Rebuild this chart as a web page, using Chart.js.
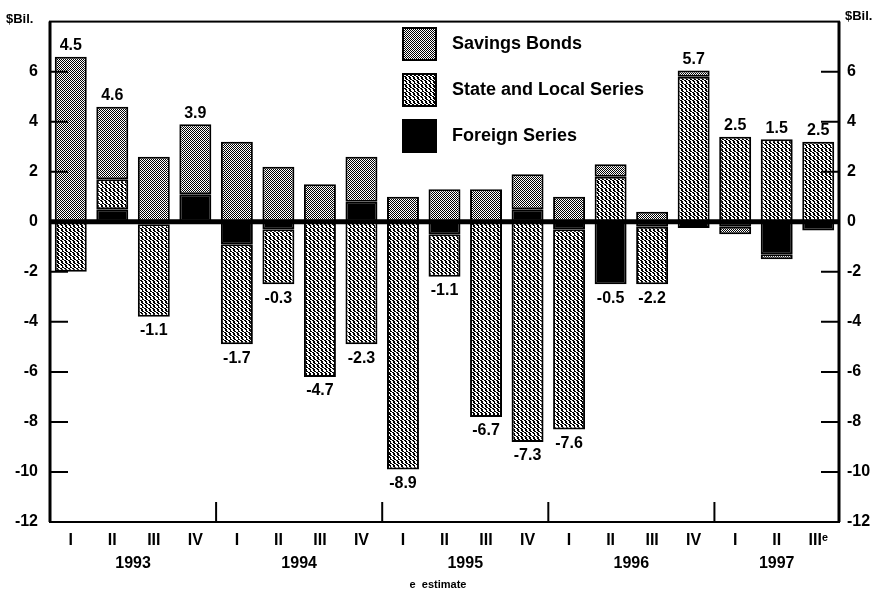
<!DOCTYPE html>
<html>
<head>
<meta charset="utf-8">
<script src="https://cdn.jsdelivr.net/npm/chart.js@4.4.1/dist/chart.umd.min.js"></script>
<style>
  html, body { margin: 0; padding: 0; background: #fff; }
  #wrap { width: 879px; height: 594px; }
</style>
</head>
<body>
<div id="wrap"><canvas id="chart" width="879" height="594"></canvas></div>
<script>
// quarters 1993 I .. 1997 III (estimate)
const quarters = ['I', 'II', 'III', 'IV', 'I', 'II', 'III', 'IV', 'I', 'II', 'III', 'IV', 'I', 'II', 'III', 'IV', 'I', 'II', 'III\u1D49'];
const years = ['1993', '1994', '1995', '1996', '1997'];
const yearCenters = [1.5, 5.5, 9.5, 13.5, 17];

// $ billions
const savingsBonds = [6.6, 2.9, 2.6, 2.8, 3.2, 2.2, 1.5, 1.8, 1.0, 1.3, 1.3, 1.4, 1.0, 0.5, 0.4, 0.25, -0.3, -0.2, null];
const stateLocal   = [-2.0, 1.2, -3.7, null, -4.0, -2.2, -6.2, -4.9, -9.9, -1.7, -7.8, -8.8, -8.0, 1.8, -2.3, 5.8, 3.4, 3.3, 3.2];
const foreign      = [null, 0.5, -0.1, 1.1, -0.9, -0.3, null, 0.8, null, -0.5, null, 0.5, -0.3, -2.5, -0.2, -0.25, -0.2, -1.3, -0.35];
const netTotals    = [4.5, 4.6, -1.1, 3.9, -1.7, -0.3, -4.7, -2.3, -8.9, -1.1, -6.7, -7.3, -7.6, -0.5, -2.2, 5.7, 2.5, 1.5, 2.5];

const FONT = '"Liberation Sans", Arial, sans-serif';
const canvas = document.getElementById('chart');
const ctx0 = canvas.getContext('2d');

function makePattern(size, ink) {
  const c = document.createElement('canvas');
  c.width = c.height = size;
  const g = c.getContext('2d');
  g.fillStyle = '#fff';
  g.fillRect(0, 0, size, size);
  g.fillStyle = '#000';
  for (let y = 0; y < size; y++)
    for (let x = 0; x < size; x++)
      if (ink(x, y)) g.fillRect(x, y, 1, 1);
  return ctx0.createPattern(c, 'repeat');
}

// dotted lattice for savings bonds, darker wavy hatch for state and local
const sbFill = makePattern(4, (x, y) => (x + y) % 4 === 0 || (x - y + 8) % 4 === 0 || (x === 0 && y === 2) || (x === 2 && y === 0));
const slFill = makePattern(8, (x, y) => (((x + ((y >> 1) & 1) - y + 16) % 4) < 2 && !(x === 5 && y === 2)) || (x === 2 && y === 6) || (x === 6 && y === 3));

const decor = {
  id: 'decor',
  afterDatasetsDraw(chart) {
    const { ctx, chartArea: a, scales: { x, y } } = chart;
    ctx.save();
    ctx.strokeStyle = '#000';
    ctx.fillStyle = '#000';

    // zero line
    ctx.lineWidth = 5;
    ctx.beginPath();
    ctx.moveTo(a.left, y.getPixelForValue(0));
    ctx.lineTo(a.right, y.getPixelForValue(0));
    ctx.stroke();

    // frame: thin top/bottom, heavier sides
    ctx.lineWidth = 2;
    ctx.strokeRect(a.left, a.top, a.right - a.left, a.bottom - a.top);
    ctx.lineWidth = 3;
    ctx.beginPath();
    ctx.moveTo(a.left, a.top); ctx.lineTo(a.left, a.bottom);
    ctx.moveTo(a.right, a.top); ctx.lineTo(a.right, a.bottom);
    ctx.stroke();

    // inward tick marks on both sides
    ctx.lineWidth = 2;
    for (let v = -10; v <= 6; v += 2) {
      if (v === 0) continue;
      const py = y.getPixelForValue(v);
      ctx.beginPath();
      ctx.moveTo(a.left, py); ctx.lineTo(a.left + 18, py);
      ctx.moveTo(a.right - 18, py); ctx.lineTo(a.right, py);
      ctx.stroke();
    }

    // year dividers
    [3, 7, 11, 15].forEach(i => {
      const px = (x.getPixelForValue(i) + x.getPixelForValue(i + 1)) / 2;
      ctx.beginPath();
      ctx.moveTo(px, a.bottom); ctx.lineTo(px, a.bottom - 20);
      ctx.stroke();
    });

    // net totals
    ctx.font = 'bold 16px ' + FONT;
    ctx.textAlign = 'center';
    netTotals.forEach((v, i) => {
      let pos = 0, neg = 0;
      [foreign, stateLocal, savingsBonds].forEach(s => {
        const d = s[i] || 0;
        if (d > 0) pos += d; else neg += d;
      });
      const px = x.getPixelForValue(i);
      if (v >= 0) {
        ctx.textBaseline = 'bottom';
        ctx.fillText(v.toFixed(1), px, y.getPixelForValue(pos) - 3);
      } else {
        ctx.textBaseline = 'top';
        ctx.fillText(v.toFixed(1), px, y.getPixelForValue(neg) + 6);
      }
    });

    // legend
    const items = [
      ['Savings Bonds', sbFill],
      ['State and Local Series', slFill],
      ['Foreign Series', '#000']
    ];
    ctx.font = 'bold 18px ' + FONT;
    ctx.textAlign = 'left';
    ctx.textBaseline = 'middle';
    items.forEach(([label, fill], k) => {
      const top = 28 + k * 46;
      ctx.fillStyle = fill;
      ctx.fillRect(403, top, 33, 32);
      ctx.lineWidth = 2;
      ctx.strokeRect(403, top, 33, 32);
      ctx.fillStyle = '#000';
      ctx.fillText(label, 452, top + 16);
    });

    // unit labels and footnote
    ctx.font = 'bold 13px ' + FONT;
    ctx.textBaseline = 'middle';
    ctx.textAlign = 'left';
    ctx.fillText('$Bil.', 6, 19);
    ctx.fillText('$Bil.', 845, 16);
    ctx.font = 'bold 11px ' + FONT;
    ctx.textAlign = 'center';
    ctx.fillText('e  estimate', 438, 585);
    ctx.restore();
  }
};

const barStyle = { borderColor: '#000', borderWidth: 2, borderSkipped: false, barPercentage: 0.77, categoryPercentage: 1 };

new Chart(canvas, {
  type: 'bar',
  data: {
    labels: quarters,
    datasets: [
      { label: 'Foreign Series', data: foreign, backgroundColor: '#000', ...barStyle },
      { label: 'State and Local Series', data: stateLocal, backgroundColor: slFill, ...barStyle },
      { label: 'Savings Bonds', data: savingsBonds, backgroundColor: sbFill, ...barStyle }
    ]
  },
  options: {
    responsive: false,
    animation: false,
    layout: { padding: { top: 19, bottom: 20, left: 0, right: 0 } },
    plugins: { legend: { display: false }, tooltip: { enabled: false } },
    scales: {
      x: {
        stacked: true,
        offset: true,
        weight: 0,
        afterFit: s => { s.height = 30; },
        grid: { display: false, drawTicks: false },
        border: { display: false },
        ticks: { color: '#000', padding: 9, autoSkip: false, maxRotation: 0, font: { family: FONT, size: 16, weight: 'bold' } }
      },
      xYear: {
        type: 'linear',
        position: 'bottom',
        offset: false,
        min: -0.5,
        max: 18.5,
        weight: 1,
        afterFit: s => { s.height = 22; },
        afterBuildTicks: s => { s.ticks = yearCenters.map(v => ({ value: v })); },
        grid: { display: false, drawTicks: false, offset: false },
        border: { display: false },
        ticks: { color: '#000', padding: 2, autoSkip: false, maxRotation: 0, callback: (v, i) => years[i], font: { family: FONT, size: 16, weight: 'bold' } }
      },
      y: {
        stacked: true,
        position: 'left',
        min: -12,
        max: 8,
        afterFit: s => { s.width = 50; },
        grid: { display: false, drawTicks: false },
        border: { display: false },
        ticks: { stepSize: 2, color: '#000', padding: 12, font: { family: FONT, size: 16, weight: 'bold' }, callback: v => v === 8 ? '' : v }
      },
      y2: {
        position: 'right',
        min: -12,
        max: 8,
        afterFit: s => { s.width = 40; },
        grid: { display: false, drawTicks: false },
        border: { display: false },
        ticks: { stepSize: 2, color: '#000', padding: 8, font: { family: FONT, size: 16, weight: 'bold' }, callback: v => v === 8 ? '' : v }
      }
    }
  },
  plugins: [decor]
});
</script>
</body>
</html>
